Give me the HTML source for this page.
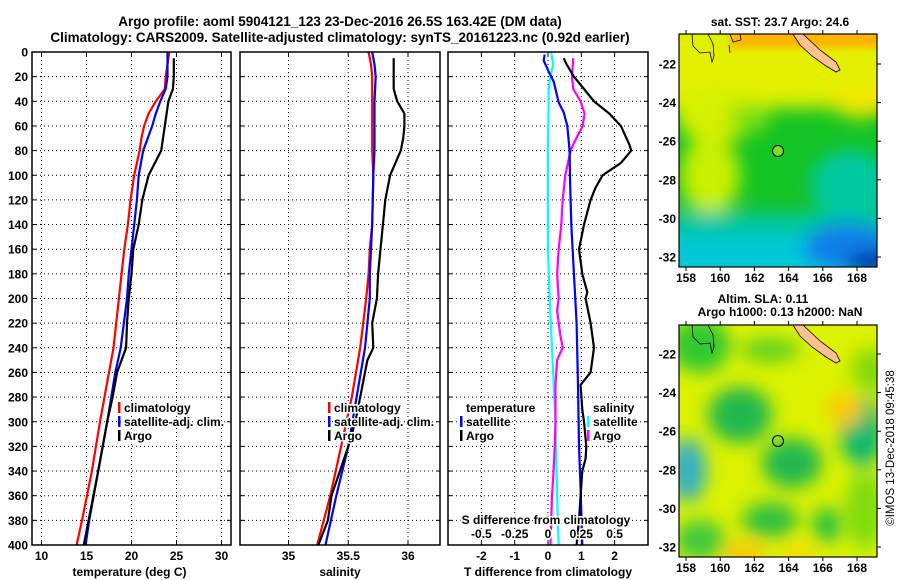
<!DOCTYPE html>
<html><head><meta charset="utf-8"><style>
html,body{margin:0;padding:0;background:#fff;}
svg{display:block;font-family:"Liberation Sans",sans-serif;font-weight:bold;}
</style></head><body>
<svg id="fig" width="900" height="580" viewBox="0 0 900 580" xmlns="http://www.w3.org/2000/svg">
<defs>
<filter id="blur8" x="-50%" y="-50%" width="200%" height="200%"><feGaussianBlur stdDeviation="9"/></filter>
<filter id="blur4" x="-50%" y="-50%" width="200%" height="200%"><feGaussianBlur stdDeviation="4"/></filter>
<clipPath id="clipTop"><rect x="679" y="34" width="198" height="233"/></clipPath>
<clipPath id="clipBot"><rect x="679" y="325" width="198" height="232"/></clipPath>
</defs>
<text x="340" y="26" font-size="13.5" text-anchor="middle">Argo profile: aoml 5904121_123 23-Dec-2016 26.5S 163.42E (DM data)</text>
<text x="340" y="42" font-size="13.5" text-anchor="middle">Climatology: CARS2009. Satellite-adjusted climatology: synTS_20161223.nc (0.92d earlier)</text>
<g id="charts"></g>

<!-- top map -->
<g clip-path="url(#clipTop)">
<rect x="679" y="34" width="198" height="233" fill="#14c424"/>
<g filter="url(#blur8)">
<rect x="660" y="20" width="240" height="88" fill="#e2f000"/>
<ellipse cx="710" cy="175" rx="30" ry="38" fill="#c8f000"/>
<ellipse cx="715" cy="115" rx="40" ry="28" fill="#d4f000"/>
<ellipse cx="750" cy="118" rx="20" ry="15" fill="#78e010"/>
<ellipse cx="860" cy="100" rx="30" ry="18" fill="#f0e800"/>
<rect x="660" y="212" width="240" height="70" fill="#00c8a0"/>
<ellipse cx="850" cy="185" rx="40" ry="35" fill="#00c8a0"/>
<rect x="660" y="236" width="240" height="45" fill="#00c8d8"/>
<ellipse cx="848" cy="247" rx="45" ry="25" fill="#1080e8"/>
<ellipse cx="872" cy="264" rx="25" ry="12" fill="#0020a0"/>
</g>
<g filter="url(#blur4)">
<rect x="730" y="20" width="160" height="28" fill="#ffb400"/>
</g>
<path d="M793,34 L803,34 L820,50 L836,62 L840,70 L836,72 L826,66 L812,56 L800,45 Z" fill="#ffc090" stroke="#000" stroke-width="0.8"/>
<path d="M692,34 L693,46 L700,53 L710,52 L712,62 L714,56 L713,44 L708,34" fill="none" stroke="#000" stroke-width="0.8"/>
<path d="M730,34 L733,42 L741,40 L740,34 M729,45 L730,53" fill="none" stroke="#000" stroke-width="0.8"/>
<circle cx="778" cy="151" r="5.5" fill="#7ee020" stroke="#000" stroke-width="1"/>
</g>
<rect x="679" y="34" width="198" height="233" fill="none" stroke="#000" stroke-width="1.2"/>
<text x="780" y="26" font-size="12" text-anchor="middle">sat. SST: 23.7 Argo: 24.6</text>

<!-- bottom map -->
<g clip-path="url(#clipBot)">
<rect x="679" y="325" width="198" height="232" fill="#dcf200"/>
<g filter="url(#blur8)">
<ellipse cx="700" cy="345" rx="30" ry="28" fill="#30c830"/>
<ellipse cx="770" cy="350" rx="30" ry="12" fill="#60d020"/>
<ellipse cx="740" cy="415" rx="32" ry="28" fill="#20b850"/>
<ellipse cx="792" cy="463" rx="30" ry="25" fill="#20b850"/>
<ellipse cx="862" cy="432" rx="22" ry="35" fill="#10b870"/>
<ellipse cx="688" cy="470" rx="18" ry="32" fill="#30b0c8"/>
<ellipse cx="770" cy="520" rx="28" ry="18" fill="#30c040"/>
<ellipse cx="827" cy="525" rx="14" ry="18" fill="#20c040"/>
<ellipse cx="700" cy="540" rx="25" ry="20" fill="#40c840"/>
<ellipse cx="845" cy="410" rx="18" ry="16" fill="#ffc800"/>
<ellipse cx="745" cy="553" rx="22" ry="10" fill="#ffc000"/>
<ellipse cx="800" cy="553" rx="14" ry="8" fill="#ffd000"/>
<ellipse cx="870" cy="370" rx="18" ry="22" fill="#80d810"/>
<ellipse cx="865" cy="510" rx="20" ry="40" fill="#80dc10"/>
</g>
<path d="M793,325 L803,325 L820,341 L836,353 L840,361 L836,363 L826,357 L812,347 L800,336 Z" fill="#ffc090" stroke="#000" stroke-width="0.8"/>
<path d="M692,325 L693,337 L700,344 L710,343 L712,353 L714,347 L713,335 L708,325" fill="none" stroke="#000" stroke-width="0.8"/>
<circle cx="778" cy="441" r="5.5" fill="none" stroke="#000" stroke-width="1"/>
</g>
<rect x="679" y="325" width="198" height="232" fill="none" stroke="#000" stroke-width="1.2"/>
<text x="763" y="303" font-size="12" text-anchor="middle">Altim. SLA: 0.11</text>
<text x="780" y="316" font-size="12" text-anchor="middle">Argo h1000: 0.13 h2000: NaN</text>
<text transform="translate(894,448) rotate(-90)" font-size="11.5" font-weight="normal" text-anchor="middle">©IMOS 13-Dec-2018 09:45:38</text>
<g id="maps-axes"></g>
</svg>
<script>
// ---- data ----
const tempDepths = [0,20,30,40,50,60,70,80,100,120,140,160,180,200,240,260,300,340,380,400];
const tempClim   = [24.2,23.8,23.7,22.7,21.9,21.4,21.1,20.9,20.3,19.9,19.6,19.2,18.9,18.6,18.0,17.5,16.5,15.6,14.5,13.9];
const tempSat    = [24.0,24.0,23.8,23.2,22.7,22.3,21.8,21.3,20.8,20.6,20.3,20.0,19.7,19.5,18.8,18.2,17.3,16.3,15.3,14.9];
const argoDepths = [5,20,30,40,60,80,100,120,140,160,180,200,220,240,260,280,300,340,400];
const tempArgo   = [24.7,24.7,24.6,24.1,23.7,23.3,21.9,21.2,20.8,20.2,20.0,19.7,19.5,19.4,18.4,17.9,17.3,16.3,14.7];
const salDepths = [0,10,20,40,80,100,140,160,180,200,240,280,320,360,400];
const salClim   = [35.67,35.69,35.70,35.70,35.70,35.71,35.70,35.68,35.67,35.65,35.60,35.53,35.44,35.35,35.24];
const salSat    = [35.70,35.72,35.73,35.72,35.72,35.71,35.70,35.69,35.68,35.68,35.64,35.57,35.50,35.40,35.31];
const salArgoDepths = [5,30,40,50,60,70,80,100,120,140,160,180,200,220,240,250,270,300,320,340,360,380,400];
const salArgo   = [35.88,35.88,35.91,35.97,35.97,35.96,35.94,35.85,35.81,35.79,35.77,35.75,35.74,35.70,35.71,35.66,35.62,35.56,35.50,35.43,35.36,35.33,35.25];
const dTDepths = [2,7,16,24,41,49,60,80,102,140,181,220,270,320,354,400];
const dTSat    = [-0.1,-0.13,0.02,0.17,0.32,0.47,0.58,0.65,0.66,0.70,0.78,0.86,0.90,0.93,0.98,1.03];
const dTArgoDepths = [5,10,20,30,40,50,60,75,80,90,100,110,120,140,160,180,195,200,220,240,260,270,290,300,320,330,340,360,380,400];
const dTArgo   = [0.47,0.56,0.78,1.08,1.38,1.84,2.19,2.44,2.50,2.19,1.64,1.43,1.28,1.08,0.93,1.03,1.18,1.13,1.28,1.38,1.28,0.98,1.03,1.08,1.15,1.13,1.03,0.98,0.93,0.86];
const dSDepths = [0,10,20,30,80,160,200,240,300,360,400];
const dSSat    = [0.023,0.04,0.018,0.005,0,0,0.013,0.03,0.056,0.068,0.08];
const dSArgoDepths = [5,20,30,40,50,60,75,80,100,120,140,160,180,200,210,230,240,250,270,300,320,340,360,400];
const dSArgo   = [0.19,0.18,0.19,0.245,0.275,0.26,0.19,0.17,0.13,0.11,0.10,0.08,0.068,0.08,0.068,0.093,0.11,0.068,0.056,0.056,0.05,0.042,0.03,0.018];
const depthTicks = [0,20,40,60,80,100,120,140,160,180,200,220,240,260,280,300,320,340,360,380,400];
const tempTicks = [10,15,20,25,30];
const salTicks = [35,35.5,36];
const dTTicks = [-2,-1,0,1,2];
const dSTicks = [-0.5,-0.25,0,0.25,0.5];
const lonTicks = [158,160,162,164,166,168];
const latTicks = [-22,-24,-26,-28,-30,-32];

const NS = 'http://www.w3.org/2000/svg';
const charts = document.getElementById('charts');
function mk(tag, attrs, parent){ const e=document.createElementNS(NS,tag); for(const k in attrs) e.setAttribute(k,attrs[k]); (parent||charts).appendChild(e); return e; }
const Y0=52, Y1=545;
function yD(d){ return Y0 + d*(Y1-Y0)/400; }
function lin(d0,d1,p0,p1){ return v => p0 + (v-d0)*(p1-p0)/(d1-d0); }

const panels = [
 {name:'temperature-panel', x0:32, x1:231, sx:lin(10,30,41.5,221.5), ticks:tempTicks, label:'temperature (deg C)'},
 {name:'salinity-panel', x0:240, x1:440, sx:lin(35,36,288.5,408), ticks:salTicks, label:'salinity'},
 {name:'difference-panel', x0:448, x1:648, sx:lin(0,1,548,581.3), ticks:dTTicks, label:'T difference from climatology'}
];
panels.forEach((p,pi)=>{
  const g = mk('g',{});
  
  
  depthTicks.forEach(d=>{
    if(d>0 && d<400){
      const l = mk('line',{x1:p.x0,x2:p.x1,y1:yD(d),y2:yD(d),stroke:'#000','stroke-width':1,'stroke-dasharray':'1,3'},g);
      
      
    }
    mk('line',{x1:p.x0,x2:p.x0+4,y1:yD(d),y2:yD(d),stroke:'#000'},g);
    mk('line',{x1:p.x1-4,x2:p.x1,y1:yD(d),y2:yD(d),stroke:'#000'},g);
    if(pi===0){
      const t = mk('text',{x:28,y:yD(d)+4.5,'font-size':12,'text-anchor':'end'},g);
      t.textContent = d;
      
      
    }
  });
  p.ticks.forEach(v=>{
    const x = p.sx(v);
    const l = mk('line',{x1:x,x2:x,y1:Y0,y2:Y1,stroke:'#000','stroke-width':1,'stroke-dasharray':'1,3'},g);
    
    
    mk('line',{x1:x,x2:x,y1:Y1-4,y2:Y1,stroke:'#000'},g);
    mk('line',{x1:x,x2:x,y1:Y0,y2:Y0+4,stroke:'#000'},g);
    const t = mk('text',{x:x,y:560,'font-size':12,'text-anchor':'middle'},g);
    t.textContent = v;
    
    
  });
  const lab = mk('text',{x:(p.x0+p.x1)/2+(pi===0?-2:0),y:576,'font-size':12,'text-anchor':'middle'},g);
  lab.textContent = p.label;
  
  
  p.g = g;
});

function series(p, depths, vals, color, name, sx){
  const f = sx || p.sx;
  const pts = depths.map((d,i)=> f(vals[i]).toFixed(1)+','+yD(d).toFixed(1)).join(' ');
  const pl = mk('polyline',{points:pts,fill:'none',stroke:color,'stroke-width':2.2},p.g);
  
  
}
series(panels[0], tempDepths, tempClim, '#ff0000', 'temp-climatology-line');
series(panels[0], tempDepths, tempSat, '#0000ff', 'temp-satellite-line');
series(panels[0], argoDepths, tempArgo, '#000', 'temp-argo-line');
series(panels[1], salDepths, salClim, '#ff0000', 'sal-climatology-line');
series(panels[1], salDepths, salSat, '#0000ff', 'sal-satellite-line');
series(panels[1], salArgoDepths, salArgo, '#000', 'sal-argo-line');
const sxS = lin(0,0.25,548,581.3);
series(panels[2], dSDepths, dSSat, '#00ffff', 'dS-satellite-line', sxS);
series(panels[2], dSArgoDepths, dSArgo, '#ff00ff', 'dS-argo-line', sxS);
series(panels[2], dTDepths, dTSat, '#0000ff', 'dT-satellite-line');
series(panels[2], dTArgoDepths, dTArgo, '#000', 'dT-argo-line');

const sg = mk('g',{fill:'#000'});


const st = mk('text',{x:546,y:524,'font-size':12,'text-anchor':'middle',stroke:'#fff','stroke-width':3,'paint-order':'stroke'},sg);
st.textContent='S difference from climatology';
dSTicks.forEach(v=>{
  const t = mk('text',{x:sxS(v),y:538,'font-size':12,'text-anchor':'middle',stroke:'#fff','stroke-width':3,'paint-order':'stroke'},sg);
  t.textContent = v;
});

panels.forEach(p=>{
  mk('rect',{x:p.x0,y:Y0,width:p.x1-p.x0,height:Y1-Y0,fill:'none',stroke:'#000','stroke-width':1.5},p.g);
});

function legend(x,y,items,title){
  const g = mk('g',{});
  
  
  let yy=y;
  if(title){ const t=mk('text',{x:x+6,y:yy,'font-size':12,stroke:'#fff','stroke-width':3,'paint-order':'stroke'},g); t.textContent=title; yy+=14; }
  items.forEach(it=>{
    const e = mk('g',{},g);
    
    
    mk('rect',{x:x,y:yy-10,width:2.5,height:11,fill:it[1]},e);
    const t=mk('text',{x:x+6,y:yy,'font-size':12,stroke:'#fff','stroke-width':3,'paint-order':'stroke'},e);
    t.textContent=it[0];
    yy+=14;
  });
}
legend(118,412,[['climatology','#f00'],['satellite-adj. clim.','#00f'],['Argo','#000']]);
legend(328,412,[['climatology','#f00'],['satellite-adj. clim.','#00f'],['Argo','#000']]);
legend(460,412,[['satellite','#00f'],['Argo','#000']],'temperature');
legend(587,412,[['satellite','#0ff'],['Argo','#f0f']],'salinity');
</script>
<script>
(function(){
  const g = document.getElementById('maps-axes');
  const mapsDef = [{y0:34,y1:267,lat22:64,lat32:257},{y0:325,y1:557,lat22:354,lat32:547}];
  const lonX = v => 686 + (v-158)*(857-686)/10;
  mapsDef.forEach(m=>{
    lonTicks.forEach(v=>{
      const x=lonX(v);
      const a=document.createElementNS(NS,'line'); a.setAttribute('x1',x);a.setAttribute('x2',x);a.setAttribute('y1',m.y1);a.setAttribute('y2',m.y1+4);a.setAttribute('stroke','#000'); g.appendChild(a);
      const b=document.createElementNS(NS,'line'); b.setAttribute('x1',x);b.setAttribute('x2',x);b.setAttribute('y1',m.y0-4);b.setAttribute('y2',m.y0);b.setAttribute('stroke','#000'); g.appendChild(b);
      const t=document.createElementNS(NS,'text'); t.setAttribute('x',x);t.setAttribute('y',m.y1+15);t.setAttribute('font-size','12');t.setAttribute('text-anchor','middle'); t.textContent=v;
      
      
      g.appendChild(t);
    });
    latTicks.forEach(v=>{
      const y = m.lat22 + (-22-v)*(m.lat32-m.lat22)/10;
      const a=document.createElementNS(NS,'line'); a.setAttribute('x1',877);a.setAttribute('x2',881);a.setAttribute('y1',y);a.setAttribute('y2',y);a.setAttribute('stroke','#000'); g.appendChild(a);
      const t=document.createElementNS(NS,'text'); t.setAttribute('x',676);t.setAttribute('y',y+4.5);t.setAttribute('font-size','12');t.setAttribute('text-anchor','end'); t.textContent=v;
      
      
      g.appendChild(t);
    });
  });
})();
</script>
</body></html>
